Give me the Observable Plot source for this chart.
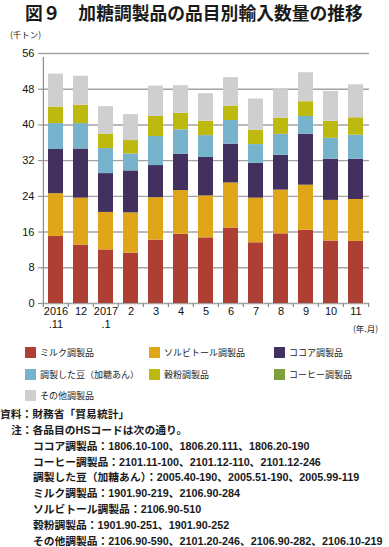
<!DOCTYPE html>
<html><head><meta charset="utf-8">
<script src="https://cdn.jsdelivr.net/npm/d3@7"></script>
<script src="https://cdn.jsdelivr.net/npm/@observablehq/plot@0.6"></script>
<style>
body{margin:0;width:389px;height:547px;position:relative;overflow:hidden;background:#fff;font-family:"Liberation Sans","Noto Sans CJK JP",sans-serif;color:#1a1a1a}
.abs{position:absolute;white-space:nowrap}
#title{left:25px;top:2px;font-family:"Noto Sans CJK JP";font-weight:700;font-size:17.8px;line-height:20px}
.sw{position:absolute;width:11px;height:11px}
.lg{position:absolute;font-family:"Noto Sans CJK JP";font-size:9px;line-height:11px;white-space:nowrap}
#notes{left:0;top:407px;font-family:"Liberation Sans","Noto Sans CJK JP";font-weight:700;font-size:11.5px;line-height:15.85px}
#notes div{white-space:nowrap}
</style></head>
<body>
<div id="title" class="abs">図９　加糖調製品の品目別輸入数量の推移</div>
<div class="abs" style="left:10px;top:29px;font-family:'Noto Sans CJK JP';font-size:8.5px;line-height:10px">(千トン)</div>
<div id="chart" class="abs" style="left:0;top:30px"></div>
<div class="abs" style="left:353px;top:323px;font-family:'Noto Sans CJK JP';font-size:8.5px;line-height:10px">(年.月)</div>
<div id="legend"></div>
<div id="notes" class="abs"></div>
<script>
const months = ["2016.11","2016.12","2017.1","2017.2","2017.3","2017.4","2017.5","2017.6","2017.7","2017.8","2017.9","2017.10","2017.11"];
const tickLine1 = ["2016","12","2017","2","3","4","5","6","7","8","9","10","11"];
const tickLine2 = [".11","",".1","","","","","","","","","",""];
const seriesNames = ["ミルク調製品","ソルビトール調製品","ココア調製品","調製した豆（加糖あん）","穀粉調製品","コーヒー調製品","その他調製品"];
const seriesColors = ["#ad3f35","#e0a619","#42305e","#77b3cc","#bdb90e","#7da03a","#cfcfcf"];
const milk     = [15.0,13.1,12.0,11.3,14.2,15.5,14.7,16.9,13.6,15.6,16.4,14.0,13.9];
const sorbitol = [9.6,10.5,8.4,9.0,9.5,9.8,9.4,10.1,10.0,9.8,10.1,9.1,9.4];
const cocoa    = [9.9,11.0,8.7,9.4,7.2,8.1,8.6,8.7,7.8,7.8,11.4,9.2,9.0];
const beans    = [5.8,5.7,5.6,3.8,6.5,5.5,4.9,5.3,4.2,4.7,4.0,4.7,5.4];
const cereal   = [3.7,4.1,3.2,3.0,4.5,3.7,3.2,3.2,3.2,3.6,3.3,3.8,3.9];
const coffee   = [0,0,0,0,0,0,0,0,0,0,0,0,0];
const other    = [7.4,6.5,6.2,5.8,6.8,6.2,6.2,6.4,7.0,6.4,6.5,6.7,7.4];
const yTicks = [0,8,16,24,32,40,48,56];
const notes = [
  ["0px","資料：財務省「貿易統計」"],
  ["11px","注：各品目のHSコードは次の通り。"],
  ["33px","ココア調製品：1806.10-100、1806.20.111、1806.20-190"],
  ["33px","コーヒー調製品：2101.11-100、2101.12-110、2101.12-246"],
  ["33px","調製した豆（加糖あん）：2005.40-190、2005.51-190、2005.99-119"],
  ["33px","ミルク調製品：1901.90-219、2106.90-284"],
  ["33px","ソルビトール調製品：2106.90-510"],
  ["33px","穀粉調製品：1901.90-251、1901.90-252"],
  ["33px","その他調製品：2106.90-590、2101.20-246、2106.90-282、2106.10-219"]
];

const seriesValues = [milk, sorbitol, cocoa, beans, cereal, coffee, other];
const table = months.flatMap((m, i) => seriesNames.map((s, j) => ({month: m, series: s, value: seriesValues[j][i]})));

const W = 389, mL = 41, mR = 20;
const step = (W - mL - mR) / months.length;
const lab1 = d => tickLine1[months.indexOf(d)];
const lab2 = d => tickLine2[months.indexOf(d)];
const ink = "#111";

const chart = Plot.plot({
  width: W, height: 313,
  marginTop: 23, marginBottom: 40, marginLeft: mL, marginRight: mR,
  style: {fontFamily: "Liberation Sans, Arial, sans-serif", fontSize: "11px", color: ink, background: "transparent"},
  x: {type: "band", domain: months, paddingInner: 0.4, paddingOuter: 0.2, axis: null},
  y: {domain: [0, 56], axis: null},
  color: {domain: seriesNames, range: seriesColors},
  marks: [
    Plot.ruleY(yTicks, {stroke: "#a3a3a3", strokeWidth: 1.4}),
    Plot.barY(table, {x: "month", y: "value", fill: "series"}),
    Plot.ruleX([months[0]], {x: d => d, dx: -step / 2, y1: 0, y2: 56, stroke: "#8a8a8a", strokeWidth: 1.2, insetBottom: -4}),
    Plot.ruleX(months, {x: d => d, dx: -step / 2, y1: 0, y2: 0, insetBottom: -4, stroke: "#8a8a8a", strokeWidth: 1.2}),
    Plot.ruleX([months[months.length - 1]], {x: d => d, dx: step / 2, y1: 0, y2: 0, insetBottom: -4, stroke: "#8a8a8a", strokeWidth: 1.2}),
    Plot.axisY({ticks: yTicks, label: null, tickSize: 3, tickPadding: 4, stroke: "#8a8a8a", fontSize: 11, fill: ink}),
    Plot.text(months, {x: d => d, text: lab1, frameAnchor: "bottom", dy: 11.5, fontSize: 11, fill: ink}),
    Plot.text(months, {x: d => d, text: lab2, frameAnchor: "bottom", dy: 24.5, fontSize: 11, fill: ink})
  ]
});
document.getElementById("chart").appendChild(chart);

// legend
const legend = document.getElementById("legend");
const colX = [25, 149, 274], rowY = [347, 368.5, 390];
seriesNames.forEach((s, i) => {
  const c = i % 3, r = Math.floor(i / 3);
  const sw = document.createElement("div");
  sw.className = "sw"; sw.style.left = colX[c] + "px"; sw.style.top = rowY[r] + "px"; sw.style.background = seriesColors[i];
  legend.appendChild(sw);
  const t = document.createElement("div");
  t.className = "lg"; t.style.left = (colX[c] + 15) + "px"; t.style.top = rowY[r] + "px"; t.textContent = s;
  legend.appendChild(t);
});

// notes
const nd = document.getElementById("notes");
const rows = notes.map(([l, txt]) => {
  const d = document.createElement("div");
  d.style.paddingLeft = l;
  const sp = document.createElement("span");
  sp.textContent = txt;
  d.appendChild(sp);
  nd.appendChild(d);
  return sp;
});
// fit the longest line to the reference width (ends near x=383)
const last = rows[rows.length - 1];
const wNow = last.getBoundingClientRect().width;
const target = 383 - 33;
if (wNow > target) {
  nd.style.fontSize = (11.5 * target / wNow) + "px";
}
</script>
</body></html>
